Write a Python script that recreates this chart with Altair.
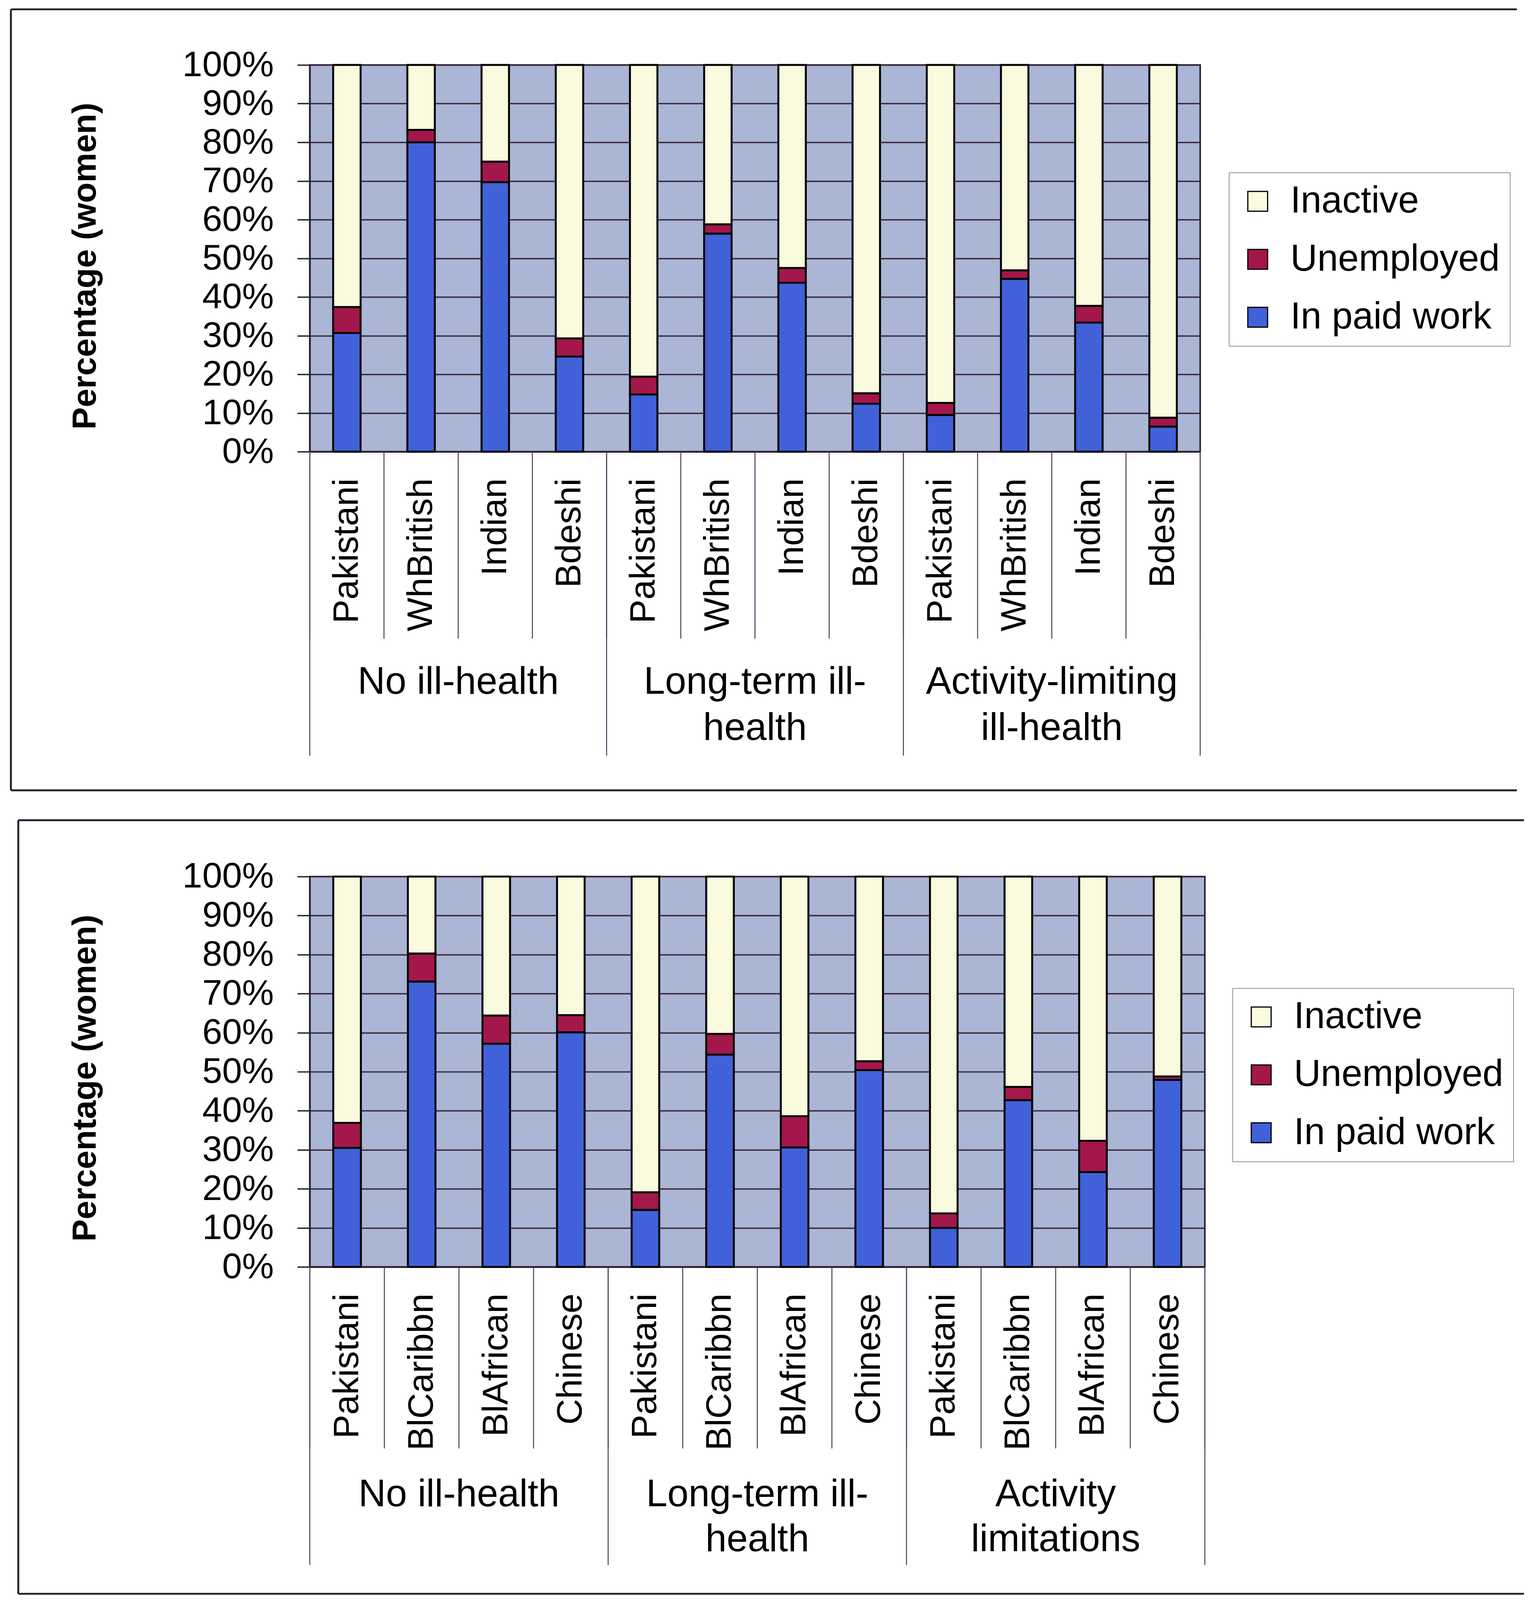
import altair as alt
import pandas as pd

FONT = "Liberation Sans"
INK = "#2a1f2e"
LINE = "#4a3b5c"

# ---------------- data (percent) ----------------
statuses = ["Inactive", "Unemployed", "In paid work"]
status_colors = ["#FAFADF", "#A3174B", "#4161D9"]

top_groups = ["No ill-health", "Long-term ill-\nhealth", "Activity-limiting\nill-health"]
top_cats = ["Pakistani", "WhBritish", "Indian", "Bdeshi"]
top_paid = [30.7, 80.0, 69.7, 24.6, 14.8, 56.4, 43.7, 12.4, 9.5, 44.7, 33.4, 6.5]
top_unemp = [6.7, 3.2, 5.3, 4.7, 4.6, 2.4, 3.8, 2.7, 3.1, 2.2, 4.3, 2.3]
top_inactive = [62.6, 16.8, 25.0, 70.7, 80.6, 41.2, 52.5, 84.9, 87.4, 53.1, 62.3, 91.2]

bot_groups = ["No ill-health", "Long-term ill-\nhealth", "Activity\nlimitations"]
bot_cats = ["Pakistani", "BlCaribbn", "BlAfrican", "Chinese"]
bot_paid = [30.5, 73.1, 57.2, 60.1, 14.6, 54.4, 30.6, 50.4, 10.0, 42.7, 24.3, 47.9]
bot_unemp = [6.4, 7.2, 7.2, 4.4, 4.5, 5.3, 8.0, 2.3, 3.7, 3.4, 8.0, 0.9]
bot_inactive = [63.1, 19.7, 35.6, 35.5, 80.9, 40.3, 61.4, 47.3, 86.3, 53.9, 67.7, 51.2]

y_ticks = [0, 10, 20, 30, 40, 50, 60, 70, 80, 90, 100]


def hline(x1, x2, y):
    return alt.Chart(alt.Data(values=[{"f": 1}])).mark_rule(
        color=INK, strokeWidth=5).encode(
        x=alt.value(x1), x2=alt.value(x2), y=alt.value(y))


def vline(x, y1, y2):
    return alt.Chart(alt.Data(values=[{"f": 1}])).mark_rule(
        color=INK, strokeWidth=5).encode(
        x=alt.value(x), y=alt.value(y1), y2=alt.value(y2))


def build(groups, cats, paid, unemp, inactive, W, H, cat_len, grp_len,
          label_base, line_h, legend_x, legend_y, frame, title_x, title_y):
    rows, keys = [], []
    i = 0
    for g in groups:
        for c in cats:
            k = f"{i:02d}|{c}"
            keys.append(k)
            for s, vals, o in [("In paid work", paid, 0), ("Unemployed", unemp, 1),
                               ("Inactive", inactive, 2)]:
                rows.append({"k": k, "status": s, "v": vals[i], "o": o})
            i += 1
    df = pd.DataFrame(rows)
    n = len(keys)
    per = len(cats)

    bars = alt.Chart(df).mark_bar(stroke="#000000", strokeWidth=5).encode(
        x=alt.X("k:N", sort=keys,
                scale=alt.Scale(paddingInner=0.63, paddingOuter=0.315),
                axis=alt.Axis(title=None, labelExpr="split(datum.label, '|')[1]",
                              labelAngle=270, labelFontSize=92, labelFont=FONT,
                              labelColor="#000000", labelPadding=68, labelLimit=2000,
                              labelOverlap=False, ticks=False, grid=False,
                              domainColor=INK, domainWidth=4)),
        y=alt.Y("v:Q", stack="zero",
                scale=alt.Scale(domain=[0, 100], nice=False),
                axis=alt.Axis(title="Percentage (women)", values=y_ticks,
                              labelExpr="datum.value + '%'", labelFontSize=92,
                              labelFont=FONT, labelColor="#000000", labelPadding=61,
                              labelLimit=2000, labelOverlap=False,
                              tickSize=32, tickColor=INK, tickWidth=3.5,
                              grid=True, gridColor="#3a2a3a", gridWidth=3.5,
                              domainColor=INK, domainWidth=4,
                              titleFontSize=86, titleFont=FONT, titleFontWeight="bold",
                              titleColor="#000000", titleAngle=270, titleX=title_x,
                              titleY=title_y, titleAlign="center", titleBaseline="middle")),
        color=alt.Color("status:N",
                        scale=alt.Scale(domain=statuses, range=status_colors),
                        legend=alt.Legend(title=None, orient="none", legendX=legend_x,
                                          legendY=legend_y, direction="vertical",
                                          symbolType="square", symbolSize=2600,
                                          symbolStrokeColor="#000000", symbolStrokeWidth=3,
                                          labelFontSize=96, labelFont=FONT,
                                          labelColor="#000000", labelLimit=2000,
                                          rowPadding=53, labelOffset=36, padding=26,
                                          strokeColor=INK, fillColor="#ffffff")),
        order=alt.Order("o:Q", sort="ascending"),
    )

    bnd = pd.DataFrame({"b": list(range(n + 1))})
    gbnd = pd.DataFrame({"b": list(range(0, n + 1, per))})
    gtxt = pd.DataFrame({"c": [gi * per + per / 2 for gi in range(len(groups))],
                         "label": groups})
    qx = alt.Scale(domain=[0, n], nice=False, zero=False)

    cat_rules = alt.Chart(bnd).mark_rule(color=LINE, strokeWidth=2.5).encode(
        x=alt.X("b:Q", scale=qx, axis=None),
        y=alt.value(H), y2=alt.value(H + cat_len))
    grp_rules = alt.Chart(gbnd).mark_rule(color=LINE, strokeWidth=2.5).encode(
        x=alt.X("b:Q", scale=qx, axis=None),
        y=alt.value(H), y2=alt.value(H + grp_len))
    texts = alt.Chart(gtxt).mark_text(fontSize=98, font=FONT, color="#000000",
                                      lineBreak="\n", lineHeight=line_h,
                                      align="center", baseline="alphabetic").encode(
        x=alt.X("c:Q", scale=qx, axis=None),
        y=alt.value(H + label_base),
        text="label:N")

    fx1, fx2, fy1, fy2 = frame
    parts = [hline(fx1, fx2, fy1), vline(fx1, fy1, fy2)]
    if fy2 is not None:
        parts.append(hline(fx1, fx2, fy2))

    return alt.layer(*parts, bars, cat_rules, grp_rules, texts).resolve_scale(
        x="independent").properties(width=W, height=H)


top = build(top_groups, top_cats, top_paid, top_unemp, top_inactive,
            W=2291, H=995, cat_len=481, grp_len=782, label_base=623, line_h=118,
            legend_x=2365, legend_y=277, frame=(-769, 3106, -143, 1866),
            title_x=-577, title_y=517)
bottom = build(bot_groups, bot_cats, bot_paid, bot_unemp, bot_inactive,
               W=2303, H=1004, cat_len=467, grp_len=767, label_base=616, line_h=115,
               legend_x=2374, legend_y=287, frame=(-750, 3124, -145, 1845),
               title_x=-577, title_y=518)

chart = alt.vconcat(top, bottom, spacing=67).resolve_scale(
    color="independent").resolve_legend(color="independent").configure(
    background="#ffffff", font=FONT,
    padding={"left": 15, "top": 1, "right": 0, "bottom": 0}).configure_view(
    fill="#ABB5D5", stroke=INK, strokeWidth=4)

chart.save("out.html", embed_options={"renderer": "svg", "actions": False})
